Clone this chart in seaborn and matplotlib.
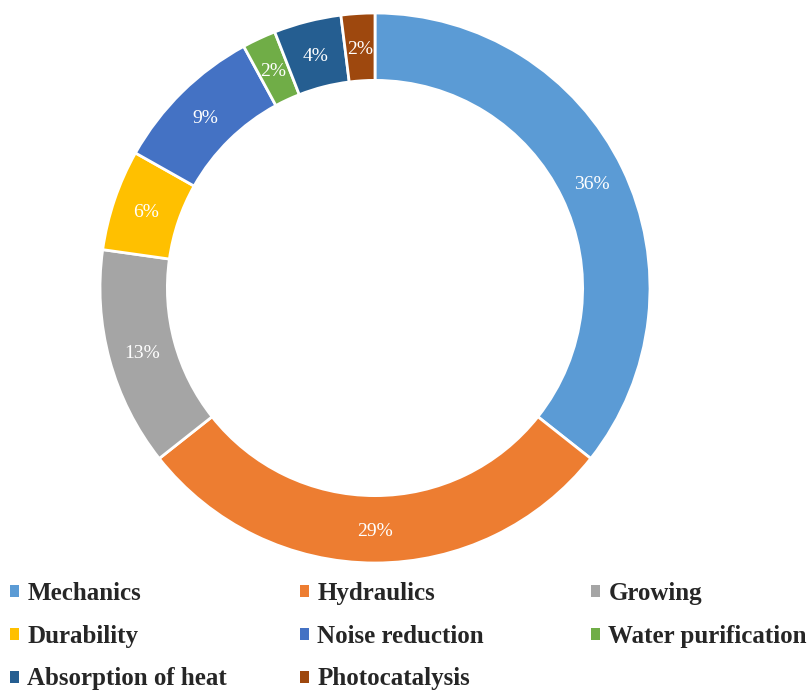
import matplotlib
matplotlib.use("Agg")
import matplotlib.pyplot as plt
import numpy as np
import seaborn as sns

# Share of studies by application field (%)
categories = ["Mechanics", "Hydraulics", "Growing", "Durability",
              "Noise reduction", "Water purification",
              "Absorption of heat", "Photocatalysis"]
shares = [36, 29, 13, 6, 9, 2, 4, 2]
colors = ["#5B9BD5", "#ED7D31", "#A5A5A5", "#FFC000",
          "#4472C4", "#70AD47", "#255E91", "#9E480E"]

sns.set_theme(style="white")
plt.rcParams["font.family"] = ["Liberation Serif", "DejaVu Serif"]

W, H = 811, 690
fig = plt.figure(figsize=(W / 100, H / 100), dpi=100)

cx, cy, r = 375, 288, 275
ax = fig.add_axes([(cx - r) / W, (H - cy - r) / H, 2 * r / W, 2 * r / H])

ring = 0.245
wedges, texts = ax.pie(
    shares, colors=colors, startangle=90, counterclock=False,
    radius=1.0, normalize=True,
    wedgeprops=dict(width=ring, edgecolor="white", linewidth=2),
)

# Percentage labels in the middle of the ring
mid_r = 1.0 - ring / 2
for val, w in zip(shares, wedges):
    ang = np.deg2rad((w.theta1 + w.theta2) / 2)
    ax.text(mid_r * np.cos(ang), mid_r * np.sin(ang), f"{val}%",
            ha="center", va="center_baseline", color="white", fontsize=14)

ax.set_xlim(-1, 1)
ax.set_ylim(-1, 1)
ax.set_aspect("equal")
ax.axis("off")

# Legend laid out row by row in three fixed-width columns
col_x = [10, 300, 591]
for c in range(3):
    idx = list(range(c, len(categories), 3))
    leg = fig.legend(
        [wedges[i] for i in idx], [categories[i] for i in idx],
        frameon=False, loc="upper left",
        bbox_to_anchor=(col_x[c] / W, 1 - 582 / H),
        prop=dict(family="Liberation Serif", weight="bold", size=18),
        handlelength=0.36, handleheight=0.36, handletextpad=0.33,
        labelspacing=0.79, borderaxespad=0, borderpad=0,
    )
    for h in leg.legend_handles:
        h.set_linewidth(0)

fig.savefig("out.png", dpi=100, facecolor="white")
